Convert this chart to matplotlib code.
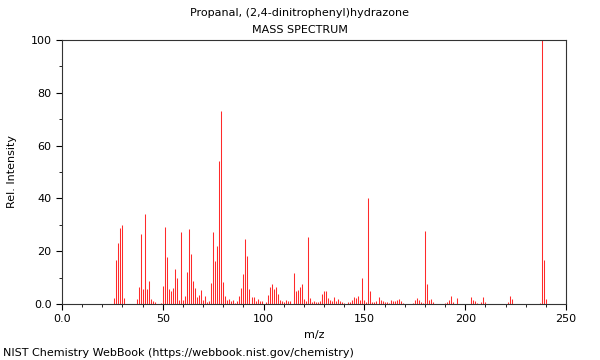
import matplotlib
matplotlib.use("Agg")
import matplotlib.pyplot as plt
from matplotlib.ticker import MultipleLocator, FixedFormatter, FixedLocator

### DATA ###

title_name = "Propanal, (2,4-dinitrophenyl)hydrazone"

# m/z values and relative intensities
mz = [
    26, 27, 28, 29, 30, 31,
    37, 38, 39, 40, 41, 42, 43, 44, 45, 46, 49,
    50, 51, 52, 53, 54, 55, 56, 57, 58, 59, 60, 61, 62, 63, 64, 65, 66, 67, 68, 69,
    70, 71, 72, 73, 74, 75, 76, 77, 78, 79, 80, 81, 82, 83, 84, 85, 86, 87, 88, 89,
    90, 91, 92, 93, 94, 95, 96, 97, 98, 99, 101, 102, 103, 104, 105, 106, 107, 108, 109,
    110, 111, 112, 113, 115, 116, 117, 118, 119, 120, 121, 122, 123, 124, 125, 126, 127,
    128, 129, 130, 131, 132, 133, 134, 135, 136, 137, 138, 139, 140, 142, 143, 144, 145,
    146, 147, 148, 149, 150, 151, 152, 153, 154, 155, 156, 157, 158, 159, 160, 161, 162,
    163, 164, 165, 166, 167, 168, 169, 174, 175, 176, 177, 178, 179, 180, 181, 182, 183,
    184, 190, 191, 192, 193, 194, 196, 203, 204, 205, 206, 208, 209, 210, 221, 222, 223,
    237, 238, 239, 240,
]
intensity = [
    2.1, 16.5, 23.2, 28.9, 29.9, 2.2,
    1.9, 6.6, 26.6, 5.5, 34.0, 5.5, 8.9, 1.8, 1.3, 0.6, 0.3,
    6.9, 29.2, 17.8, 5.8, 4.8, 6.1, 13.1, 9.7, 1.5, 27.1, 1.5, 3.0, 12.3, 28.5, 19.0, 8.7, 5.9, 2.6, 3.5, 5.2,
    1.6, 3.1, 0.8, 1.2, 7.9, 27.1, 16.4, 21.9, 54.3, 73.2, 8.3, 3.0, 1.5, 2.0, 1.3, 1.6, 0.5, 1.3, 3.1, 5.9,
    11.2, 24.5, 18.0, 5.5, 2.5, 2.5, 1.0, 2.0, 1.0, 1.0, 0.6, 3.5, 6.4, 7.4, 5.8, 6.4, 3.9, 1.4, 1.0,
    0.6, 1.4, 1.0, 1.0, 11.7, 5.1, 5.4, 6.3, 7.7, 2.0, 1.3, 25.4, 2.4, 0.6, 1.0, 0.6, 0.8,
    1.0, 3.6, 5.1, 5.0, 2.1, 1.4, 1.0, 2.8, 1.3, 2.0, 1.0, 0.6, 0.4, 0.6, 0.6, 1.5, 2.8,
    2.4, 3.2, 1.5, 10.0, 1.5, 0.6, 40.0, 5.1, 0.6, 0.8, 1.0, 2.8, 1.5, 1.0, 0.8, 0.6, 0.5,
    1.7, 1.1, 1.1, 1.4, 1.9, 1.0, 0.3, 0.5, 1.6, 2.3, 1.4, 0.6, 0.5, 27.5, 7.4, 1.4, 2.0,
    0.6, 0.5, 0.8, 1.6, 3.1, 0.6, 2.3, 2.5, 1.4, 1.0, 0.5, 0.6, 2.5, 0.6, 0.6, 3.2, 2.0,
    0.3, 100.0, 16.5, 2.0,
]

x_ticks = [0, 50, 100, 150, 200, 250]
x_labels = ["0.0", "50", "100", "150", "200", "250"]
y_ticks = [0, 20, 40, 60, 80, 100]
y_labels = ["0.0", "20", "40", "60", "80", "100"]

### PLOT ###

fig = plt.figure(figsize=(6, 3.6), dpi=100)
ax = fig.add_axes([62 / 600, 1 - 304 / 360, 504 / 600, 264 / 360])

ax.vlines(mz, 0, intensity, color="#ff2a2a", linewidth=0.75)

ax.set_xlim(0, 250)
ax.set_ylim(0, 100)
ax.xaxis.set_major_locator(FixedLocator(x_ticks))
ax.xaxis.set_major_formatter(FixedFormatter(x_labels))
ax.yaxis.set_major_locator(FixedLocator(y_ticks))
ax.yaxis.set_major_formatter(FixedFormatter(y_labels))
ax.xaxis.set_minor_locator(MultipleLocator(10))
ax.yaxis.set_minor_locator(MultipleLocator(10))
ax.tick_params(which="both", direction="out", labelsize=8)
ax.tick_params(which="major", length=4)
ax.tick_params(which="minor", length=2)
for s in ax.spines.values():
    s.set_color("#333333")

ax.set_xlabel("m/z", fontsize=8)
ax.set_ylabel("Rel. Intensity", fontsize=8, labelpad=10)

fig.text(0.5, 1 - 13 / 360, title_name, ha="center", va="center", fontsize=8)
fig.text(0.5, 1 - 30 / 360, "MASS SPECTRUM", ha="center", va="center", fontsize=8)
fig.text(3 / 600, 1 - 353 / 360, "NIST Chemistry WebBook (https://webbook.nist.gov/chemistry)",
         ha="left", va="center", fontsize=8)

fig.savefig("out.png", dpi=100)
